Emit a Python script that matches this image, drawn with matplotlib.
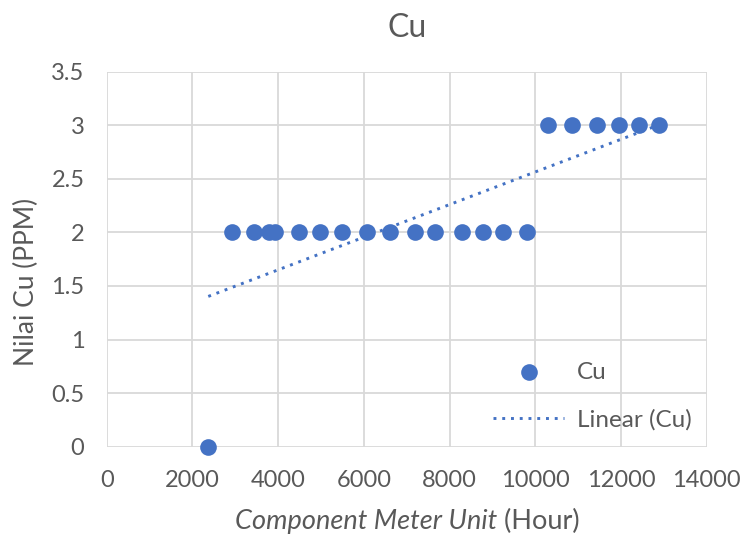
import numpy as np
import matplotlib
matplotlib.use("Agg")
import matplotlib.pyplot as plt

# readings taken off the reference chart
hours = [2370, 2930, 3440, 3790, 3930, 4490, 4980, 5480, 6080, 6610, 7190,
         7650, 8280, 8770, 9240, 9800, 10300, 10860, 11430, 11950, 12430, 12890]
cu_ppm = [0, 2, 2, 2, 2, 2, 2, 2, 2, 2, 2,
          2, 2, 2, 2, 2, 3, 3, 3, 3, 3, 3]
x_ticks = [0, 2000, 4000, 6000, 8000, 10000, 12000, 14000]
y_ticks = [0, 0.5, 1, 1.5, 2, 2.5, 3, 3.5]
y_tick_labels = ['0', '0.5', '1', '1.5', '2', '2.5', '3', '3.5']

blue = '#4472C4'
grey_text = '#595959'
plt.rcParams['font.family'] = ['Lato', 'DejaVu Sans']

W, H = 743, 535
fig = plt.figure(figsize=(W / 100, H / 100), dpi=100)
ax = fig.add_axes([106.7 / W, 1 - 446.7 / H, 600 / W, 375.2 / H])

ax.scatter(hours, cu_ppm, s=144, color=blue, zorder=3, clip_on=False,
           linewidths=0, label='Cu')

# linear trendline, like Excel's
slope, icpt = np.polyfit(hours, cu_ppm, 1)
xs = np.array([min(hours), max(hours)])
ax.plot(xs, slope * xs + icpt, color=blue, lw=2.1, linestyle=(0, (1, 2)),
        zorder=2, label='Linear (Cu)')

ax.set_xlim(0, 14000)
ax.set_ylim(0, 3.5)
ax.set_xticks(x_ticks)
ax.set_yticks(y_ticks)
ax.set_yticklabels(y_tick_labels)
ax.grid(True, color='#d9d9d9', lw=1.3)
ax.set_axisbelow(True)
for s in ax.spines.values():
    s.set_visible(False)
ax.tick_params(length=0, labelsize=17, colors=grey_text)
ax.tick_params(axis='y', pad=16)
ax.tick_params(axis='x', pad=17)

ax.set_title('Cu', fontsize=23, color=grey_text, pad=25)
fig.text(26 / W, 1 - 282 / H, 'Nilai Cu (PPM)', rotation=90, fontsize=19,
         color=grey_text, ha='center', va='center')

# x label: italic part + upright part, centred together
lab_y = 1 - 521 / H
t1 = fig.text(0, lab_y, 'Component Meter Unit', style='italic', fontsize=19.5,
              color=grey_text, ha='left', va='center')
t2 = fig.text(0, lab_y, ' (Hour)', fontsize=19.5, color=grey_text,
              ha='left', va='center')
fig.canvas.draw()
r = fig.canvas.get_renderer()
w1 = t1.get_window_extent(r).width
w2 = t2.get_window_extent(r).width
x0 = 407.5 - (w1 + w2) / 2
t1.set_x(x0 / W)
t2.set_x((x0 + w1) / W)

leg = ax.legend(loc='lower right', bbox_to_anchor=((692 - 106.7) / 600, 0.042),
                frameon=False, fontsize=17.5, labelspacing=1.1,
                handlelength=2.9, handletextpad=0.55, borderpad=0,
                borderaxespad=0)
for t in leg.get_texts():
    t.set_color(grey_text)

fig.savefig('out.png', dpi=100)
